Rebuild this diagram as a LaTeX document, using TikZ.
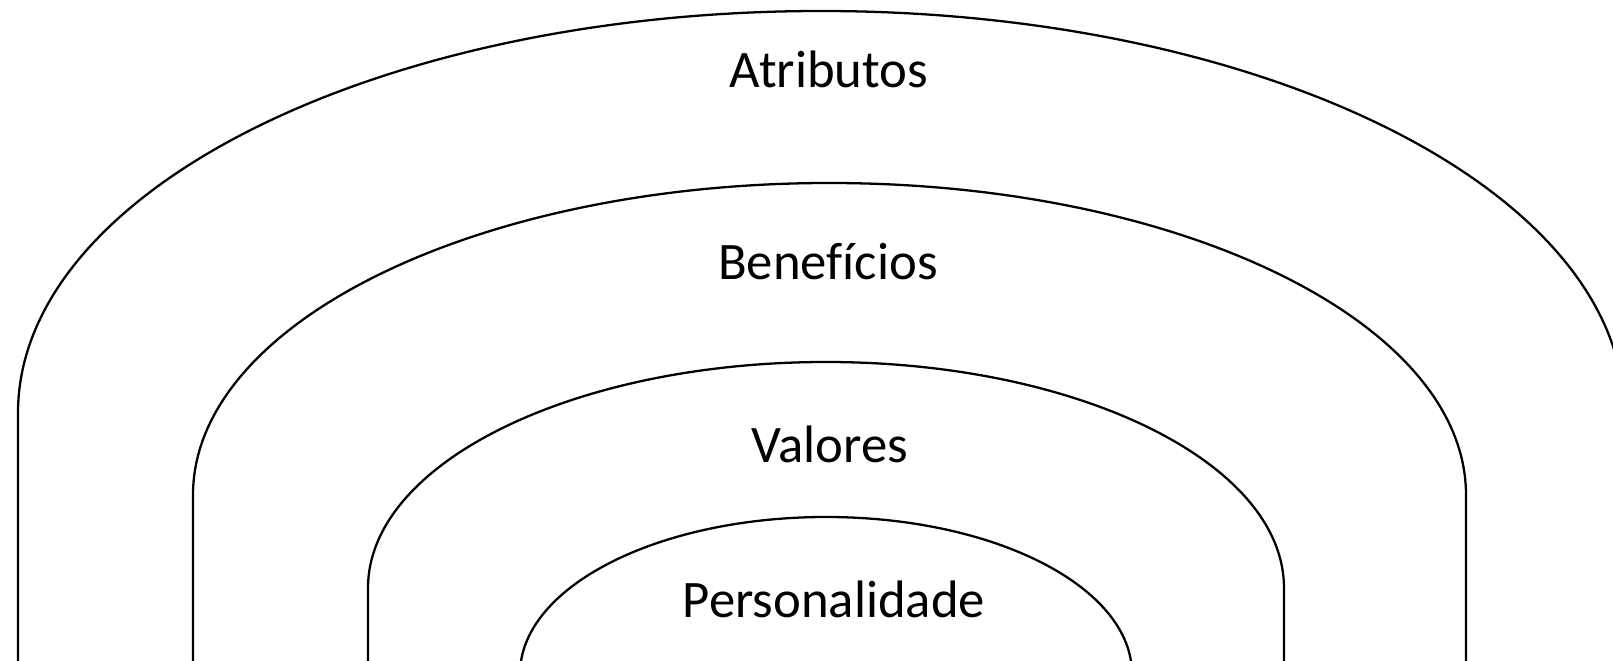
\documentclass[tikz,border=0pt]{standalone}
\usepackage{fontspec}
\setmainfont[Ligatures=NoCommon]{Carlito}
\begin{document}
\begin{tikzpicture}[
  archline/.style={draw=black, line width=0.65pt},
  label/.style={anchor=base, inner sep=0pt, font=\fontsize{15pt}{18pt}\selectfont}
]
\useasboundingbox (0,0) rectangle (16.13,6.61);
\clip (0,0) rectangle (16.13,6.61);
% outer arch
\draw[archline] (0.18,-0.1) -- (0.18,2.48) arc[start angle=180, end angle=0, x radius=8.03cm, y radius=4.02cm] -- (16.24,-0.1);
% second arch
\draw[archline] (1.93,-0.1) -- (1.93,1.66) arc[start angle=180, end angle=0, x radius=6.365cm, y radius=3.12cm] -- (14.66,-0.1);
% third arch
\draw[archline] (3.68,-0.1) -- (3.68,0.73) arc[start angle=180, end angle=0, x radius=4.58cm, y radius=2.26cm] -- (12.84,-0.1);
% inner arch
\draw[archline] (5.20,-0.5) -- (5.20,-0.13) arc[start angle=180, end angle=0, x radius=3.06cm, y radius=1.57cm] -- (11.32,-0.5);
\node[label] (atr) at (8.29,5.73) {Atributos};
\node[label] (ben) at (8.28,3.81) {Benefícios};
\node[label] (val) at (8.30,1.98) {Valores};
\node[label] (per) at (8.34,0.43) {Personalidade};
\end{tikzpicture}
\end{document}
